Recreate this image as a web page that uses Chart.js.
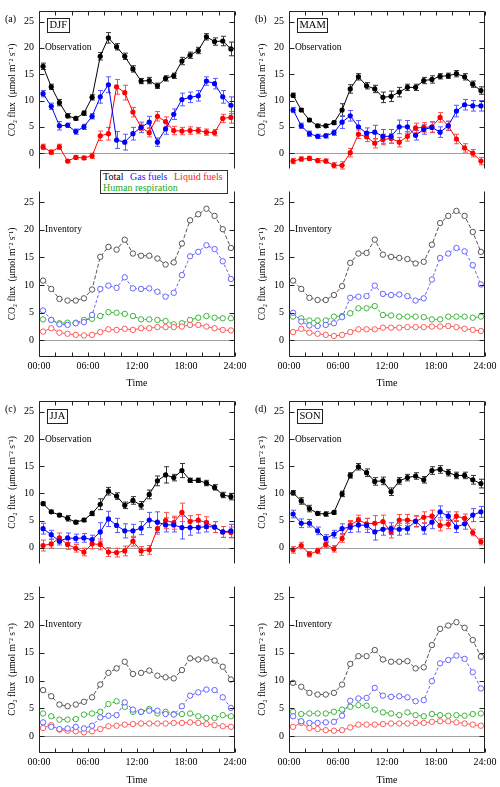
<!DOCTYPE html>
<html>
<head>
<meta charset="utf-8">
<script src="https://cdn.jsdelivr.net/npm/chart.js@4.4.1/dist/chart.umd.min.js"></script>
<style>
  body { margin: 0; background: #fff; }
  #page { position: relative; width: 500px; height: 787px; overflow: hidden; }
  #page canvas { position: absolute; }
  #legend { position: absolute; left: 100px; top: 170px; width: 126px; height: 22px; border: 1px solid #333;
    background: #fff; font: 10px 'Liberation Serif', 'Times New Roman', serif; z-index: 5; }
  #legend span { position: absolute; white-space: nowrap; line-height: 11px; }
</style>
</head>
<body>
<div id="page">
  <canvas id="obsDJF"></canvas>
  <canvas id="invDJF"></canvas>
  <canvas id="obsMAM"></canvas>
  <canvas id="invMAM"></canvas>
  <canvas id="obsJJA"></canvas>
  <canvas id="invJJA"></canvas>
  <canvas id="obsSON"></canvas>
  <canvas id="invSON"></canvas>
  <div id="legend"></div>
</div>
<script>
var hours = [0.5, 1.5, 2.5, 3.5, 4.5, 5.5, 6.5, 7.5, 8.5, 9.5, 10.5, 11.5,
             12.5, 13.5, 14.5, 15.5, 16.5, 17.5, 18.5, 19.5, 20.5, 21.5, 22.5, 23.5];
var yTicks = [0, 5, 10, 15, 20, 25];
var xTicks = [0, 6, 12, 18, 24];
var xTickLabels = ['00:00', '06:00', '12:00', '18:00', '24:00'];
var xMinorTicks = [0, 2, 4, 6, 8, 10, 12, 14, 16, 18, 20, 22, 24];
var seriesNames = ['Total', 'Gas fuels', 'Liquid fuels', 'Human respiration'];

// observation (eddy covariance), mean and error per hour
var obsDJFTotal     = [16.5, 12.6, 9.6, 7.1, 6.6, 7.6, 10.6, 18.4, 21.9, 20.2, 18.4, 16.0, 13.7, 13.8, 12.8, 14.2, 14.7, 17.5, 18.6, 19.5, 22.1, 21.2, 21.3, 19.8];
var obsDJFTotalErr  = [0.6, 0.5, 0.6, 0.4, 0.3, 0.4, 0.5, 0.7, 1.0, 0.6, 0.6, 0.6, 0.5, 0.6, 0.5, 0.5, 0.5, 0.7, 0.6, 0.6, 0.6, 0.7, 0.9, 1.3];
var obsDJFGas       = [11.3, 8.9, 5.2, 5.3, 4.1, 5.0, 7.0, 10.7, 13.0, 2.5, 2.1, 3.7, 4.9, 5.9, 2.1, 4.6, 7.4, 10.2, 10.6, 10.9, 13.7, 13.2, 10.7, 9.1];
var obsDJFGasErr    = [0.6, 0.6, 0.8, 0.4, 0.5, 0.5, 0.5, 1.2, 1.5, 1.6, 1.5, 1.2, 1.0, 1.1, 0.8, 1.0, 1.0, 1.2, 1.0, 1.0, 0.8, 1.0, 1.2, 1.6];
var obsDJFLiquid    = [1.2, 0.2, 1.2, -1.5, -0.8, -0.9, -0.5, 3.3, 3.7, 12.6, 11.5, 7.8, 4.9, 3.9, 7.0, 6.0, 4.3, 4.2, 4.3, 4.3, 4.0, 3.9, 6.6, 6.8];
var obsDJFLiquidErr = [0.5, 0.4, 0.5, 0.3, 0.3, 0.3, 0.5, 0.9, 1.2, 1.4, 1.4, 0.9, 0.6, 0.8, 0.9, 0.9, 0.8, 0.7, 0.7, 0.6, 0.6, 0.6, 0.8, 1.1];

var obsMAMTotal     = [11.0, 8.2, 6.3, 5.2, 5.2, 5.8, 8.2, 12.2, 14.5, 12.8, 12.2, 10.6, 10.8, 11.6, 12.5, 12.5, 13.8, 14.0, 14.6, 14.7, 15.1, 14.5, 13.1, 11.9];
var obsMAMTotalErr  = [0.4, 0.3, 0.3, 0.3, 0.3, 0.3, 1.2, 0.8, 0.6, 0.6, 0.7, 1.0, 1.0, 0.9, 0.6, 0.6, 0.6, 0.7, 0.5, 0.5, 0.6, 0.6, 0.6, 0.7];
var obsMAMGas       = [8.2, 5.2, 3.7, 3.2, 3.3, 3.9, 5.9, 7.1, 5.0, 3.8, 4.0, 3.2, 3.2, 5.0, 5.0, 3.4, 4.5, 4.9, 4.0, 5.2, 8.0, 9.2, 9.0, 9.0];
var obsMAMGasErr    = [0.5, 0.5, 0.5, 0.4, 0.4, 0.5, 1.2, 1.0, 1.2, 1.0, 1.3, 1.3, 1.3, 1.3, 1.2, 0.9, 0.9, 1.0, 1.0, 0.9, 1.1, 1.0, 1.0, 1.0];
var obsMAMLiquid    = [-1.5, -1.1, -1.0, -1.4, -1.5, -2.3, -2.3, 0.1, 3.6, 3.1, 1.9, 2.6, 2.8, 2.1, 3.2, 4.8, 4.9, 5.0, 6.8, 5.2, 2.7, 1.0, 0.0, -1.5];
var obsMAMLiquidErr = [0.5, 0.4, 0.4, 0.4, 0.4, 0.5, 0.7, 0.8, 0.8, 0.9, 0.9, 1.0, 0.9, 0.9, 0.9, 0.9, 0.9, 1.0, 0.9, 0.8, 0.9, 0.8, 0.7, 0.7];

var obsJJATotal     = [8.1, 6.6, 6.0, 5.4, 4.7, 5.1, 6.3, 8.0, 10.4, 9.5, 7.8, 8.7, 7.8, 9.8, 12.3, 13.4, 12.9, 14.2, 12.4, 12.4, 11.9, 11.1, 9.7, 9.4];
var obsJJATotalErr  = [0.3, 0.3, 0.3, 0.5, 0.3, 0.3, 0.4, 1.0, 0.7, 0.6, 0.6, 0.7, 0.7, 0.8, 0.9, 1.5, 0.6, 1.3, 0.4, 0.4, 0.5, 0.5, 0.5, 0.6];
var obsJJAGas       = [3.5, 2.4, 1.2, 1.8, 1.7, 1.8, 1.5, 2.9, 5.3, 4.1, 3.1, 3.1, 3.6, 5.1, 4.7, 4.2, 4.2, 3.7, 3.7, 3.7, 3.9, 3.8, 2.9, 3.1];
var obsJJAGasErr    = [1.0, 0.8, 0.7, 0.9, 0.8, 0.8, 0.8, 1.7, 1.4, 1.3, 1.3, 1.2, 1.2, 1.4, 1.9, 1.3, 1.3, 2.1, 1.4, 1.0, 1.0, 1.0, 1.0, 1.2];
var obsJJALiquid    = [0.4, 0.7, 1.8, 0.6, -0.1, -0.8, 0.7, 0.6, -0.8, -0.9, -0.6, 1.2, -0.6, -0.4, 3.5, 5.0, 4.6, 6.5, 4.8, 5.1, 4.6, 3.8, 2.9, 2.8];
var obsJJALiquidErr = [1.0, 0.8, 0.9, 0.9, 0.7, 0.7, 0.9, 1.0, 0.8, 0.8, 0.9, 0.9, 0.8, 0.8, 1.0, 1.5, 1.2, 1.7, 1.1, 1.0, 1.1, 1.0, 1.0, 1.0];

var obsSONTotal     = [10.1, 8.6, 7.2, 6.3, 6.2, 6.5, 9.9, 13.3, 14.9, 13.8, 12.2, 12.3, 10.3, 12.3, 12.9, 13.2, 12.5, 14.2, 14.4, 13.8, 13.3, 13.3, 12.5, 11.8];
var obsSONTotalErr  = [0.4, 0.6, 0.6, 0.3, 0.4, 0.3, 0.5, 0.5, 0.6, 0.7, 0.7, 0.7, 0.7, 0.6, 0.6, 0.6, 0.6, 0.7, 0.7, 0.6, 0.6, 0.6, 0.8, 0.8];
var obsSONGas       = [6.2, 4.5, 4.5, 3.1, 1.7, 2.5, 3.5, 3.8, 4.2, 4.1, 2.9, 3.4, 3.5, 3.4, 3.5, 4.9, 3.5, 4.7, 6.6, 5.8, 3.8, 4.4, 6.0, 6.6];
var obsSONGasErr    = [0.7, 0.8, 0.7, 0.7, 0.7, 0.7, 0.9, 1.0, 1.3, 1.3, 1.5, 1.1, 1.1, 1.1, 1.0, 1.0, 1.0, 1.2, 1.1, 0.8, 1.0, 1.0, 1.2, 1.0];
var obsSONLiquid    = [-0.4, 0.4, -1.2, -0.6, 0.6, -0.2, 1.7, 4.2, 5.1, 4.4, 4.5, 4.8, 2.9, 5.1, 5.1, 4.8, 5.6, 5.8, 4.1, 4.3, 5.8, 5.4, 2.8, 1.1];
var obsSONLiquidErr = [0.6, 0.6, 0.5, 0.5, 0.6, 0.6, 0.7, 0.8, 0.9, 1.0, 1.4, 1.2, 1.1, 1.0, 1.0, 1.0, 1.0, 1.1, 1.0, 0.8, 0.8, 0.8, 0.6, 0.6];

// inventory
var invDJFTotal  = [10.8, 9.3, 7.5, 7.2, 7.2, 7.6, 9.2, 15.1, 16.9, 16.4, 18.2, 15.7, 15.3, 15.3, 14.8, 13.7, 14.1, 17.5, 21.7, 22.8, 23.8, 22.5, 20.1, 16.7];
var invDJFGas    = [5.4, 3.7, 2.9, 2.8, 3.1, 3.3, 4.6, 9.3, 9.9, 9.5, 11.4, 9.4, 9.3, 9.4, 8.8, 7.9, 8.6, 11.8, 15.2, 16.0, 17.2, 16.5, 14.3, 11.1];
var invDJFLiquid = [1.6, 2.2, 1.4, 1.2, 1.0, 0.9, 1.0, 1.5, 2.0, 1.9, 2.1, 1.9, 2.2, 2.2, 2.4, 2.4, 2.4, 2.5, 2.8, 2.8, 2.5, 2.2, 1.9, 1.8];
var invDJFHuman  = [3.8, 3.7, 3.1, 3.2, 3.2, 3.7, 3.9, 4.4, 5.1, 5.0, 4.8, 4.4, 3.8, 3.8, 3.7, 3.5, 2.9, 3.1, 3.7, 4.1, 4.4, 4.1, 4.0, 4.0];

var invMAMTotal  = [10.8, 9.3, 7.7, 7.3, 7.3, 8.2, 9.8, 14.0, 15.7, 15.8, 18.2, 15.5, 15.1, 14.9, 14.7, 13.9, 14.2, 17.3, 21.2, 22.5, 23.4, 22.5, 19.6, 16.0];
var invMAMGas    = [5.0, 3.4, 2.7, 2.6, 2.8, 3.1, 4.2, 7.7, 7.9, 8.0, 9.9, 8.4, 8.2, 8.3, 8.0, 7.2, 7.6, 11.0, 14.9, 15.7, 16.7, 16.1, 13.6, 10.1];
var invMAMLiquid = [1.5, 2.1, 1.4, 1.2, 1.0, 0.8, 1.0, 1.5, 2.0, 2.0, 2.0, 2.3, 2.3, 2.3, 2.4, 2.4, 2.4, 2.5, 2.5, 2.6, 2.4, 2.1, 1.9, 1.7];
var invMAMHuman  = [4.3, 4.0, 3.6, 3.6, 3.6, 4.3, 4.4, 4.9, 5.8, 5.8, 6.2, 4.6, 4.5, 4.3, 4.3, 4.3, 4.2, 3.8, 3.8, 4.3, 4.3, 4.3, 4.1, 4.3];

var invJJATotal  = [8.3, 7.2, 5.7, 5.4, 5.7, 6.2, 7.0, 9.3, 11.4, 12.2, 13.4, 11.2, 11.4, 11.8, 10.9, 10.6, 10.4, 11.9, 14.0, 13.8, 14.0, 13.6, 12.5, 10.2];
var invJJAGas    = [2.5, 1.7, 1.3, 1.4, 1.7, 1.4, 1.9, 3.4, 3.7, 3.8, 6.1, 4.8, 4.4, 4.6, 4.6, 4.0, 3.9, 5.4, 7.3, 7.9, 8.4, 8.3, 7.0, 5.1];
var invJJALiquid = [1.5, 2.0, 1.2, 1.0, 0.9, 0.7, 0.9, 1.3, 1.8, 1.9, 2.1, 2.2, 2.3, 2.3, 2.3, 2.3, 2.4, 2.4, 2.5, 2.4, 2.2, 2.0, 1.8, 1.7];
var invJJAHuman  = [4.1, 3.6, 3.0, 3.0, 3.1, 3.9, 4.1, 4.4, 5.8, 6.3, 5.3, 4.4, 4.4, 4.9, 4.1, 4.4, 4.0, 4.0, 4.1, 3.6, 3.3, 3.3, 3.8, 3.6];

var invSONTotal  = [9.6, 8.9, 7.8, 7.5, 7.5, 7.8, 9.3, 13.0, 14.4, 14.4, 15.5, 13.8, 13.4, 13.4, 13.5, 12.2, 12.4, 16.4, 19.3, 19.9, 20.5, 19.5, 17.3, 14.3];
var invSONGas    = [3.6, 2.7, 2.4, 2.4, 2.5, 2.6, 3.7, 6.4, 6.8, 6.9, 8.7, 7.3, 7.1, 7.2, 7.0, 6.3, 6.5, 9.9, 13.1, 13.7, 14.5, 13.9, 11.5, 8.6];
var invSONLiquid = [1.7, 2.4, 1.5, 1.3, 1.1, 1.0, 1.1, 1.6, 2.1, 2.1, 2.1, 2.2, 2.3, 2.3, 2.3, 2.4, 2.4, 2.6, 2.7, 2.7, 2.5, 2.3, 2.1, 1.9];
var invSONHuman  = [4.4, 4.0, 4.1, 4.1, 4.1, 4.4, 4.8, 5.3, 5.6, 5.5, 4.8, 4.3, 4.1, 3.8, 4.3, 3.8, 3.6, 4.0, 3.8, 3.7, 3.8, 3.7, 4.0, 4.1];

var serif = "'Liberation Serif', 'Times New Roman', serif";
Chart.defaults.font.family = serif;
Chart.defaults.color = '#000';

var obsColors = { line: ['#000000', '#0000ff', '#ff0000'], err: ['#333333', '#5a5aff', '#ff4a4a'] };
var invColors = ['#555555', '#6464ff', '#ff5a5a', '#3cb43c'];
var legendColors = ['#000000', '#1a1aff', '#ff1a1a', '#22a822'];

function pts(vals) {
  return hours.map(function(h, i) { return { x: h, y: vals[i] }; });
}

function obsSets(total, totalErr, gas, gasErr, liquid, liquidErr) {
  var vals = [total, gas, liquid], errs = [totalErr, gasErr, liquidErr];
  return vals.map(function(v, k) {
    return {
      label: seriesNames[k], data: pts(v), errors: errs[k], errorColor: obsColors.err[k],
      borderColor: obsColors.line[k], backgroundColor: obsColors.line[k], borderWidth: 1,
      pointRadius: 2.6, pointBorderWidth: 0, tension: 0
    };
  });
}

function invSets(total, gas, liquid, human) {
  var vals = [total, gas, liquid, human];
  var dashes = [[4, 2], [3, 2], [], [3, 2]];
  return vals.map(function(v, k) {
    return {
      label: seriesNames[k], data: pts(v), borderColor: invColors[k], backgroundColor: '#fff',
      borderWidth: 1, borderDash: dashes[k], pointRadius: 2.7, pointBorderWidth: 1, tension: 0
    };
  });
}

// error bars with caps, drawn under the markers
var errorBars = {
  id: 'errorBars',
  beforeDatasetsDraw: function(chart) {
    var ctx = chart.ctx, ys = chart.scales.y;
    chart.data.datasets.forEach(function(ds, i) {
      if (!ds.errors) return;
      var meta = chart.getDatasetMeta(i);
      ctx.save();
      ctx.strokeStyle = ds.errorColor;
      ctx.lineWidth = 1;
      meta.data.forEach(function(pt, j) {
        var v = ds.data[j].y, e = ds.errors[j];
        var y1 = ys.getPixelForValue(v + e), y2 = ys.getPixelForValue(v - e);
        var x = Math.round(pt.x) + 0.5;
        ctx.beginPath();
        ctx.moveTo(x, y1); ctx.lineTo(x, y2);
        ctx.moveTo(x - 2.5, y1); ctx.lineTo(x + 2.5, y1);
        ctx.moveTo(x - 2.5, y2); ctx.lineTo(x + 2.5, y2);
        ctx.stroke();
      });
      ctx.restore();
    });
  }
};

// zero line, open frame with inward ticks, labels inside the panel
var panelDecor = {
  id: 'panel',
  beforeDatasetsDraw: function(chart) {
    var ctx = chart.ctx, a = chart.chartArea;
    var y0 = Math.round(chart.scales.y.getPixelForValue(0)) + 0.5;
    ctx.save();
    ctx.strokeStyle = '#a0a0a0';
    ctx.lineWidth = 1.2;
    ctx.beginPath();
    ctx.moveTo(a.left, y0); ctx.lineTo(a.right, y0);
    ctx.stroke();
    ctx.restore();
  },
  afterDraw: function(chart, args, opts) {
    var ctx = chart.ctx, a = chart.chartArea, xs = chart.scales.x, ys = chart.scales.y;
    var L = Math.round(a.left) + 0.5, R = Math.round(a.right) - 0.5;
    var T = Math.round(a.top) + 0.5, B = Math.round(a.bottom) - 0.5;
    var obs = opts.kind === 'obs';
    ctx.save();
    ctx.strokeStyle = '#222';
    ctx.lineWidth = 1;
    ctx.beginPath();
    ctx.moveTo(L, T); ctx.lineTo(L, B);
    ctx.moveTo(R, T); ctx.lineTo(R, B);
    if (obs) { ctx.moveTo(L, T); ctx.lineTo(R, T); }
    else { ctx.moveTo(L, B); ctx.lineTo(R, B); }
    yTicks.forEach(function(v) {
      var y = Math.round(ys.getPixelForValue(v)) + 0.5;
      ctx.moveTo(L, y); ctx.lineTo(L + 5, y);
      ctx.moveTo(R, y); ctx.lineTo(R - 5, y);
    });
    xMinorTicks.forEach(function(v) {
      var x = Math.round(xs.getPixelForValue(v)) + 0.5;
      if (obs) { ctx.moveTo(x, T); ctx.lineTo(x, T + 4); }
      else { ctx.moveTo(x, B); ctx.lineTo(x, B - 4); }
    });
    ctx.stroke();

    ctx.fillStyle = '#000';
    ctx.textBaseline = 'middle';
    ctx.textAlign = 'left';
    ctx.font = '9.5px ' + serif;
    ctx.fillText(opts.note, a.left + 6, ys.getPixelForValue(20));
    if (opts.letter) {
      ctx.font = '10px ' + serif;
      ctx.fillText(opts.letter, a.left - 34, a.top + 8);
    }
    if (opts.season) {
      ctx.font = '10.5px ' + serif;
      var w = ctx.measureText(opts.season).width;
      var cy = ys.getPixelForValue(24.3);
      ctx.strokeRect(Math.round(a.left + 8) + 0.5, Math.round(cy - 7) + 0.5, Math.round(w + 4), 14);
      ctx.fillText(opts.season, a.left + 10.5, cy + 0.5);
    }
    ctx.restore();
  }
};

function makePanel(p) {
  var canvas = document.getElementById(p.id);
  var inv = p.kind === 'inv';
  canvas.width = 250;
  canvas.height = p.height;
  canvas.style.left = p.left + 'px';
  canvas.style.top = p.top + 'px';
  return new Chart(canvas, {
    type: 'line',
    data: { datasets: p.datasets },
    options: {
      responsive: false,
      animation: false,
      events: [],
      devicePixelRatio: 1,
      layout: { padding: { top: p.padTop, right: 15, bottom: 0, left: 0 } },
      plugins: {
        legend: { display: false },
        tooltip: { enabled: false },
        panel: { kind: p.kind, letter: p.letter, season: p.season, note: inv ? 'Inventory' : 'Observation' }
      },
      scales: {
        x: {
          type: 'linear', min: 0, max: 24,
          afterBuildTicks: function(s) { s.ticks = xTicks.map(function(v) { return { value: v }; }); },
          afterFit: function(s) { s.height = p.axisH; },
          grid: { display: false, drawTicks: false },
          border: { display: false },
          ticks: {
            display: inv, autoSkip: false, maxRotation: 0, padding: 3, font: { size: 10 }, color: '#000',
            callback: function(v, i) { return xTickLabels[i]; }
          },
          title: { display: inv, text: 'Time', font: { size: 10 }, color: '#000', padding: { top: 0, bottom: 1 } }
        },
        y: {
          min: -3, max: 27,
          afterBuildTicks: function(s) { s.ticks = yTicks.map(function(v) { return { value: v }; }); },
          afterFit: function(s) { s.width = 39; },
          grid: { display: false, drawTicks: false },
          border: { display: false },
          ticks: { padding: 5, font: { size: 10 }, color: '#000' },
          title: {
            display: true, text: 'CO\u2082 flux  (\u03bcmol m\u207b\u00b2 s\u207b\u00b9)',
            font: { size: 9.5 }, color: '#000', padding: { top: 7, bottom: 0 }
          }
        }
      }
    },
    plugins: [panelDecor, errorBars]
  });
}

var panels = [
  { id: 'obsDJF', kind: 'obs', left: 0, top: 0, height: 180, padTop: 4, axisH: 7, letter: '(a)', season: 'DJF',
    datasets: obsSets(obsDJFTotal, obsDJFTotalErr, obsDJFGas, obsDJFGasErr, obsDJFLiquid, obsDJFLiquidErr) },
  { id: 'invDJF', kind: 'inv', left: 0, top: 180, height: 210, padTop: 7, axisH: 33,
    datasets: invSets(invDJFTotal, invDJFGas, invDJFLiquid, invDJFHuman) },
  { id: 'obsMAM', kind: 'obs', left: 250, top: 0, height: 180, padTop: 4, axisH: 7, letter: '(b)', season: 'MAM',
    datasets: obsSets(obsMAMTotal, obsMAMTotalErr, obsMAMGas, obsMAMGasErr, obsMAMLiquid, obsMAMLiquidErr) },
  { id: 'invMAM', kind: 'inv', left: 250, top: 180, height: 210, padTop: 7, axisH: 33,
    datasets: invSets(invMAMTotal, invMAMGas, invMAMLiquid, invMAMHuman) },
  { id: 'obsJJA', kind: 'obs', left: 0, top: 390, height: 185, padTop: 10, axisH: 5, letter: '(c)', season: 'JJA',
    datasets: obsSets(obsJJATotal, obsJJATotalErr, obsJJAGas, obsJJAGasErr, obsJJALiquid, obsJJALiquidErr) },
  { id: 'invJJA', kind: 'inv', left: 0, top: 575, height: 212, padTop: 10, axisH: 34,
    datasets: invSets(invJJATotal, invJJAGas, invJJALiquid, invJJAHuman) },
  { id: 'obsSON', kind: 'obs', left: 250, top: 390, height: 185, padTop: 10, axisH: 5, letter: '(d)', season: 'SON',
    datasets: obsSets(obsSONTotal, obsSONTotalErr, obsSONGas, obsSONGasErr, obsSONLiquid, obsSONLiquidErr) },
  { id: 'invSON', kind: 'inv', left: 250, top: 575, height: 212, padTop: 10, axisH: 34,
    datasets: invSets(invSONTotal, invSONGas, invSONLiquid, invSONHuman) }
];

panels.forEach(makePanel);

// shared legend box between (a) observation and inventory
var legendPos = [[2, 0], [29, 0], [73, 0], [2, 11]];
var legend = document.getElementById('legend');
seriesNames.forEach(function(name, k) {
  var s = document.createElement('span');
  s.textContent = name;
  s.style.color = legendColors[k];
  s.style.left = legendPos[k][0] + 'px';
  s.style.top = legendPos[k][1] + 'px';
  legend.appendChild(s);
});
</script>
</body>
</html>
